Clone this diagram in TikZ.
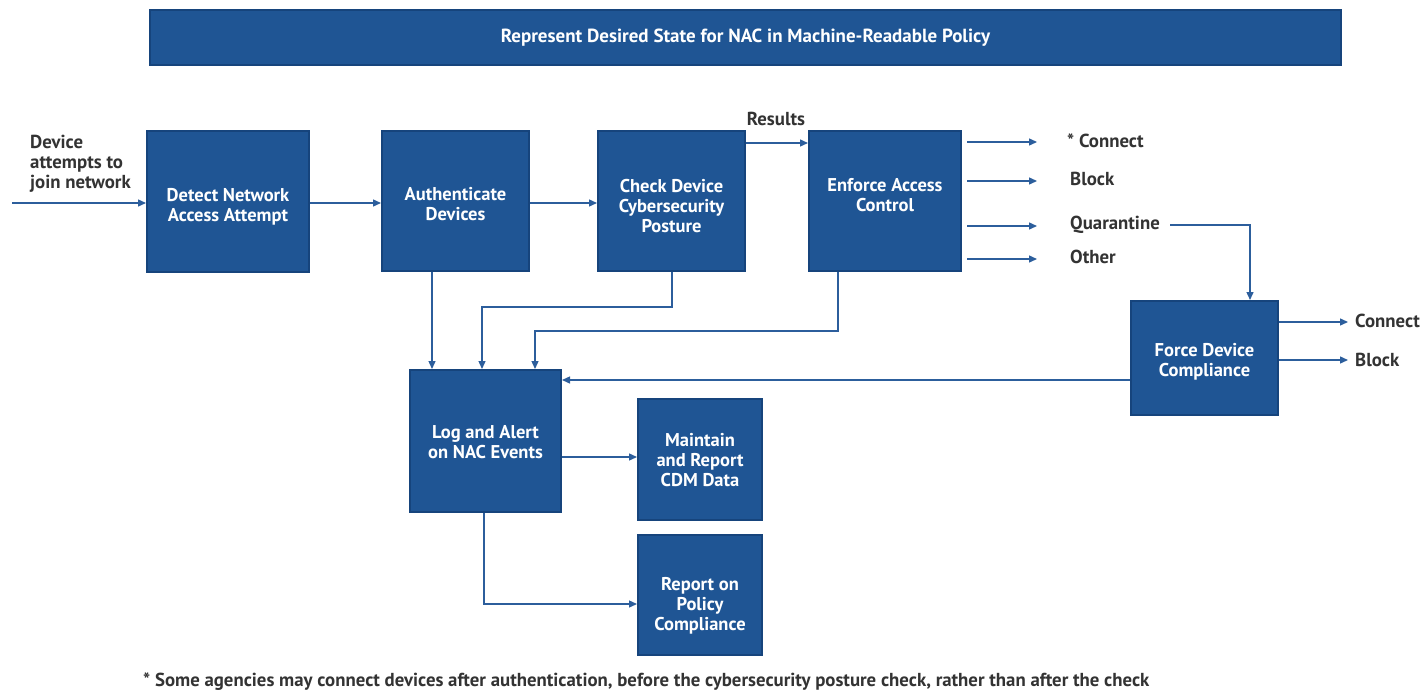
\documentclass[tikz,border=0pt]{standalone}
\usepackage{fontspec}
\setmainfont{PT Sans}
\usetikzlibrary{arrows.meta}
\definecolor{boxfill}{RGB}{31,85,148}
\definecolor{boxedge}{RGB}{22,68,124}
\definecolor{linec}{RGB}{44,94,156}
\definecolor{txt}{RGB}{51,51,51}
\tikzset{
  box/.style={draw=boxedge, line width=2pt, fill=boxfill, text=white, align=center,
    font=\bfseries\fontsize{18.5}{20}\selectfont, inner sep=0pt},
  boxtext/.style={text=white, align=center, font=\bfseries\fontsize{18.5}{20}\selectfont, inner sep=0pt},
  lbl/.style={text=txt, font=\bfseries\fontsize{18.8}{20}\selectfont, inner sep=0pt, anchor=base west, align=left},
  conn/.style={draw=linec, line width=1.4pt, -{Triangle[length=8pt,width=7pt]}},
  plain/.style={draw=linec, line width=1.4pt}
}
\begin{document}
\begin{tikzpicture}[x=1pt,y=-1pt]
\useasboundingbox (0,0) rectangle (1426,690);
% banner
\node[box, minimum width=1191pt, minimum height=55pt, font=\bfseries\fontsize{19}{20}\selectfont] (banner) at (745.5,37.5) {Represent Desired State for NAC in Machine-Readable Policy};
% boxes
\node[box, minimum width=162pt, minimum height=141pt] (detect) at (228,201.5) {};
\node[boxtext] (detectt) at ([yshift=-5pt]detect.center) {Detect Network\\Access Attempt};
\node[box, minimum width=147pt, minimum height=140pt] (auth) at (455.5,201) {};
\node[boxtext] (autht) at ([yshift=-3pt]auth.center) {Authenticate\\Devices};
\node[box, minimum width=147pt, minimum height=140pt] (check) at (671.5,201) {};
\node[boxtext] (checkt) at ([yshift=-5pt]check.center) {Check Device\\Cybersecurity\\Posture};
\node[box, minimum width=152pt, minimum height=140pt] (enforce) at (885,201) {};
\node[boxtext] (enforcet) at ([yshift=6pt]enforce.center) {Enforce Access\\Control};
\node[box, minimum width=147pt, minimum height=114pt] (force) at (1204.5,358) {};
\node[boxtext] (forcet) at ([yshift=-4pt]force.center) {Force Device\\Compliance};
\node[box, minimum width=151pt, minimum height=142pt] (log) at (485.5,441) {};
\node[boxtext] (logt) at ([yshift=-1pt]log.center) {Log and Alert\\on NAC Events};
\node[box, minimum width=124pt, minimum height=121pt] (maint) at (700,459.5) {};
\node[boxtext] (maintt) at ([yshift=-1pt]maint.center) {Maintain\\and Report\\CDM Data};
\node[box, minimum width=124pt, minimum height=120pt] (report) at (700,595) {};
\node[boxtext] (reportt) at ([yshift=-11pt]report.center) {Report on\\Policy\\Compliance};
% input
\coordinate (in) at (12,203);
\node[lbl] (devlbl) at (30,188) {Device\\attempts to\\join network};
\draw[conn] (in) -- (in -| detect.west);
\draw[conn] (detect.east |- 0,203) -- (auth.west |- 0,203);
\draw[conn] (auth.east |- 0,203) -- (check.west |- 0,203);
\draw[conn] (check.east |- 0,143) -- (enforce.west |- 0,143);
\node[text=txt, font=\bfseries\fontsize{18.8}{20}\selectfont, inner sep=0pt, anchor=base] (results) at (776,126) {Results};
% outputs of enforce
\coordinate (o1) at (967,142);
\coordinate (o1e) at (1037,142);
\coordinate (o2) at (967,181);
\coordinate (o2e) at (1037,181);
\coordinate (o3) at (967,226);
\coordinate (o3e) at (1037,226);
\coordinate (o4) at (967,259);
\coordinate (o4e) at (1037,259);
\draw[conn] (o1) -- (o1e);
\draw[conn] (o2) -- (o2e);
\draw[conn] (o3) -- (o3e);
\draw[conn] (o4) -- (o4e);
\node[lbl] (c1) at (1067,147) {* Connect};
\node[lbl] (b1) at (1070,185) {Block};
\node[lbl] (q1) at (1070,229) {Quarantine};
\node[lbl] (ot1) at (1070,263) {Other};
\coordinate (qs) at (1170,225);
\draw[conn] (qs) -| (force.north -| 1250,0);
% outputs of force
\coordinate (f1e) at (1348,322);
\coordinate (f2e) at (1348,360);
\draw[conn] (force.east |- f1e) -- (f1e);
\draw[conn] (force.east |- f2e) -- (f2e);
\node[lbl] (c2) at (1355,327) {Connect};
\node[lbl] (b2) at (1355,366) {Block};
% to log
\draw[conn] (force.west |- 0,380) -- (log.east |- 0,380);
\draw[conn] (auth.south -| 432,0) -- (log.north -| 432,0);
\draw[conn] (check.south -| 672,0) -- (672,307) -- (482,307) -- (log.north -| 482,0);
\draw[conn] (enforce.south -| 838,0) -- (838,331) -- (535,331) -- (log.north -| 535,0);
\draw[conn] (log.east |- 0,457) -- (maint.west |- 0,457);
\draw[conn] (log.south -| 484,0) -- (484,604) -- (report.west |- 0,604);
% footnote
\node[lbl] (foot) at (143,686) {* Some agencies may connect devices after authentication, before the cybersecurity posture check, rather than after the check};
\end{tikzpicture}
\end{document}
